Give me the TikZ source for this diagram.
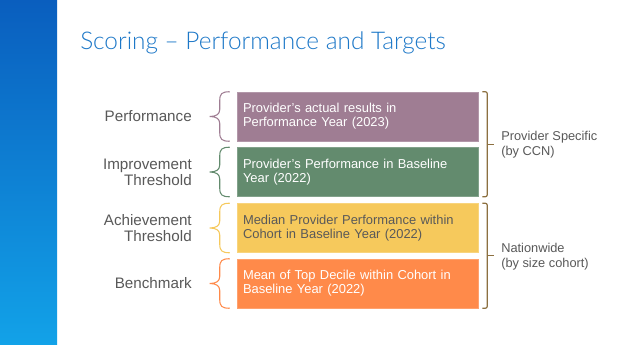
\documentclass[tikz,border=0pt]{standalone}
\usepackage{fontspec}
\setmainfont{Liberation Sans}
\newfontfamily\titlefont{Lato}[UprightFont=* Light]
\usetikzlibrary{calc}
\definecolor{stripTop}{HTML}{0A5EBE}
\definecolor{stripBot}{HTML}{12A2E8}
\definecolor{titleblue}{HTML}{1D78C8}
\definecolor{cpurple}{HTML}{9F7D93}
\definecolor{cgreen}{HTML}{638B6E}
\definecolor{cyellow}{HTML}{F6C95C}
\definecolor{corange}{HTML}{FF8A4A}
\definecolor{cbracket}{HTML}{8C7040}
\definecolor{labelgray}{HTML}{595959}
\begin{document}
\begin{tikzpicture}[x=0.75pt,y=-0.75pt,
  boxnode/.style={rectangle, fill=#1, draw=#1!80!white, line width=0.4pt,
    minimum width={241*0.75pt}, minimum height={49*0.75pt},
    text width={229*0.75pt}, align=left, inner xsep={6*0.75pt}, inner ysep=0pt,
    font=\fontsize{9.7pt}{10.6pt}\selectfont, text=white},
  leftlabel/.style={anchor=east, align=right, text=labelgray, inner sep=0pt,
    font=\fontsize{11.4pt}{12.2pt}\selectfont},
  rightlabel/.style={anchor=west, align=left, text=labelgray, inner sep=0pt,
    font=\fontsize{9.6pt}{11.4pt}\selectfont},
  bracestyle/.style={draw=#1, line width=0.8pt},
  bracketstyle/.style={draw=cbracket, line width=0.9pt, rounded corners=1.5pt}]
\useasboundingbox (0,0) rectangle (624,345);
\fill[white] (0,0) rectangle (624,345);
\shade[top color=stripTop, bottom color=stripBot] (0,0) rectangle (57,345);

\node[anchor=base west, inner sep=0pt, text=titleblue,
  font=\titlefont\fontsize{18.3pt}{20pt}\selectfont] (title) at (80,50)
  {Scoring – Performance and Targets};

\node[boxnode=cpurple] (b1) at (357.5,116.5) {Provider’s actual results in\\Performance Year (2023)};
\node[boxnode=cgreen] (b2) at (357.5,172) {Provider’s Performance in Baseline\\Year (2022)};
\node[boxnode=cyellow, text=labelgray] (b3) at (357.5,228) {Median Provider Performance within\\Cohort in Baseline Year (2022)};
\node[boxnode=corange] (b4) at (357.5,283.5) {Mean of Top Decile within Cohort in\\Baseline Year (2022)};

\node[leftlabel] (l1) at (192,116.5) {Performance};
\node[leftlabel] (l2) at (192,172) {Improvement\\Threshold};
\node[leftlabel] (l3) at (192,228) {Achievement\\Threshold};
\node[leftlabel] (l4) at (192,283.5) {Benchmark};

% left curly braces
\foreach \b/\c in {b1/cpurple,b2/cgreen,b3/cyellow,b4/corange}{
  \draw[bracestyle=\c]
    let \p1=(\b.north west), \p2=(\b.south west), \p3=(\b.west) in
    ($(\x1,\y1)+(-7,0)$) .. controls ($(\x1,\y1)+(-15,0)$) and ($(\x1,\y1)+(-17,2)$) .. ($(\x1,\y1)+(-17,9)$)
    -- ($(\x3,\y3)+(-17,-7)$) .. controls ($(\x3,\y3)+(-17,-2)$) and ($(\x3,\y3)+(-21,0)$) .. ($(\x3,\y3)+(-27,0)$)
    .. controls ($(\x3,\y3)+(-21,0)$) and ($(\x3,\y3)+(-17,2)$) .. ($(\x3,\y3)+(-17,7)$)
    -- ($(\x2,\y2)+(-17,-9)$) .. controls ($(\x2,\y2)+(-17,-2)$) and ($(\x2,\y2)+(-15,0)$) .. ($(\x2,\y2)+(-7,0)$);
}

% right brackets
\coordinate (r1t) at ($(b1.north east)+(4,0)$);
\coordinate (r1b) at ($(b2.south east)+(4,0)$);
\coordinate (r2t) at ($(b3.north east)+(4,0)$);
\coordinate (r2b) at ($(b4.south east)+(4,0)$);
\draw[bracketstyle] (r1t) -- ++(5,0) |- (r1b);
\draw[bracketstyle] ($(r1t)!0.5!(r1b)+(5,0)$) -- ++(7,0);
\draw[bracketstyle] (r2t) -- ++(5,0) |- (r2b);
\draw[bracketstyle] ($(r2t)!0.5!(r2b)+(5,0)$) -- ++(7,0);

\node[rightlabel] (p1) at (501,145) {Provider Specific\\(by CCN)};
\node[rightlabel] (p2) at (501,257) {Nationwide\\(by size cohort)};
\end{tikzpicture}
\end{document}
